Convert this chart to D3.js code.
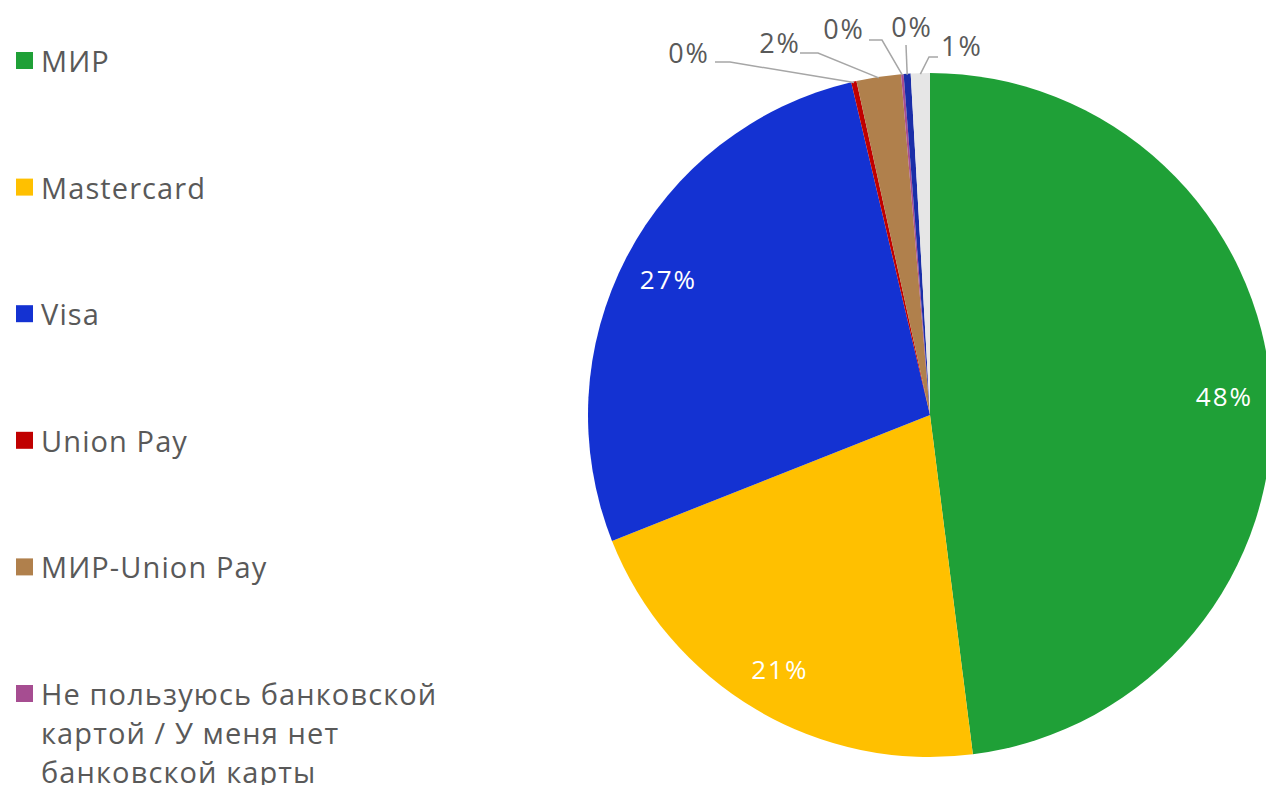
<!DOCTYPE html>
<html><head><meta charset="utf-8">
<script src="https://cdn.jsdelivr.net/npm/d3@7/dist/d3.min.js"></script>
<style>
html,body{margin:0;padding:0;background:#fff;overflow:hidden}
text{font-family:"Open Sans","Noto Sans",sans-serif}
</style></head>
<body><svg id="c" width="1266" height="785"></svg>
<script>
const categories = ["МИР","Mastercard","Visa","Union Pay","МИР-Union Pay","Не пользуюсь банковской картой / У меня нет банковской карты","Другое","Затрудняюсь ответить"];
const values = [48.0, 21.0, 27.3, 0.25, 2.1, 0.12, 0.33, 0.9];
const colors = ["#1fa037","#ffc000","#1432d2","#c00000","#b0804c","#a64d91","#1a2ea8","#e6e6e6"];
const legendLines = [["МИР"],["Mastercard"],["Visa"],["Union Pay"],["МИР-Union Pay"],["Не пользуюсь банковской","картой / У меня нет","банковской карты"]];
// outer label layout (relative to pie centre): text centre and elbow point
const outerLayout = {
  3:{tx:-241,ty:-363,ex:-200,ey:-353,sx:-215,sy:-353},
  4:{tx:-150,ty:-373,ex:-112,ey:-362,sx:-130,sy:-362},
  5:{tx:-86,ty:-387,ex:-48,ey:-375,sx:-61,sy:-375},
  6:{tx:-18,ty:-389,ex:-24,ey:-370,sx:-24,sy:-370},
  7:{tx:32,ty:-370,ex:-1,ey:-358,sx:8,sy:-358}
};

const svg = d3.select("#c");
const cx = 930, cy = 415, R = 342;
const fmt = v => Math.round(v) + "%";

const pie = d3.pie().sort(null).value(d => d)(values);
const arc = d3.arc().innerRadius(0).outerRadius(R);
const labelArc = d3.arc().innerRadius(295).outerRadius(295);
const g = svg.append("g").attr("transform", `translate(${cx},${cy})`);

g.selectAll("path.slice").data(pie).join("path")
  .attr("class","slice").attr("d", arc).attr("fill", (d,i) => colors[i]);

// inner labels
g.selectAll("text.in").data(pie.filter(d => d.value >= 5)).join("text")
  .attr("class","in")
  .attr("x", d => labelArc.centroid(d)[0]).attr("y", d => labelArc.centroid(d)[1])
  .attr("text-anchor","middle").attr("dominant-baseline","central")
  .attr("fill","#fff").attr("font-size",26).attr("letter-spacing",2).text(d => fmt(d.value));

// outer labels
pie.forEach((d,i) => {
  const L = outerLayout[i]; if (!L) return;
  const a = (d.startAngle + d.endAngle)/2;
  const px = Math.sin(a)*(R-1), py = -Math.cos(a)*(R-1);
  const pts = [[px,py],[L.ex,L.ey],[L.sx,L.sy]];
  g.append("path").attr("d", d3.line()(pts)).attr("fill","none")
    .attr("stroke","#a6a6a6").attr("stroke-width",1.5);
  g.append("text").attr("x",L.tx).attr("y",L.ty)
    .attr("text-anchor","middle").attr("dominant-baseline","central")
    .attr("fill","#595959").attr("font-size",27).attr("letter-spacing",2).text(fmt(d.value));
});

// legend
const leg = svg.append("g");
const rowY = d3.scalePoint().domain(d3.range(legendLines.length)).range([60,693]);
legendLines.forEach((lines,i) => {
  const y = rowY(i);
  leg.append("rect").attr("x",16).attr("y",y-8).attr("width",17).attr("height",17).attr("fill",colors[i]);
  const t = leg.append("text").attr("x",41).attr("y",y).attr("dominant-baseline","central")
    .attr("fill","#595959").attr("font-size",29).attr("letter-spacing",1.1);
  lines.forEach((ln,j) => t.append("tspan").attr("x",41).attr("dy", j===0?0:39).text(ln));
});
</script></body></html>
